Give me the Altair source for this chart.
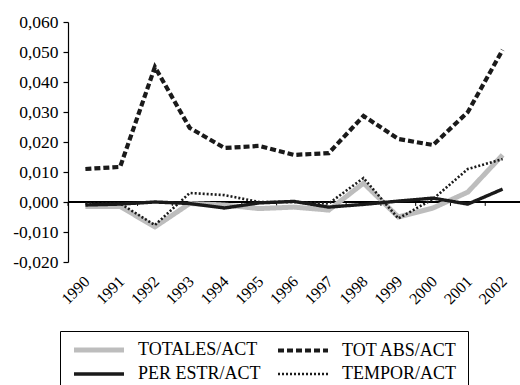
import altair as alt
import pandas as pd

years = ["1990", "1991", "1992", "1993", "1994", "1995", "1996",
         "1997", "1998", "1999", "2000", "2001", "2002"]
totales = [-0.0015, -0.0015, -0.0083, -0.0005, -0.0010, -0.0022, -0.0017,
           -0.0027, 0.0063, -0.0050, -0.0020, 0.0033, 0.0157]
tot_abs = [0.0110, 0.0117, 0.0450, 0.0247, 0.0180, 0.0187, 0.0157,
           0.0163, 0.0287, 0.0210, 0.0190, 0.0300, 0.0507]
per_estr = [-0.0010, -0.0007, 0.0000, -0.0005, -0.0020, -0.0003, 0.0002,
            -0.0017, -0.0008, 0.0003, 0.0013, -0.0007, 0.0043]
tempor = [-0.0005, -0.0005, -0.0077, 0.0030, 0.0023, 0.0000, 0.0000,
          -0.0005, 0.0080, -0.0055, 0.0010, 0.0110, 0.0143]

series_names = ["TOTALES/ACT", "TOT ABS/ACT", "PER ESTR/ACT", "TEMPOR/ACT"]
series_vals = [totales, tot_abs, per_estr, tempor]

rows = []
for name, vals in zip(series_names, series_vals):
    for y, v in zip(years, vals):
        rows.append({"year": y, "value": v, "series": name})
df = pd.DataFrame(rows)
years_df = pd.DataFrame({"year": years})

FONT = "Liberation Serif"

xscale = alt.Scale(type="band", paddingInner=0, paddingOuter=0)
yscale = alt.Scale(domain=[-0.02, 0.06], nice=False, zero=False)
yaxis = alt.Axis(
    values=[-0.02, -0.01, 0, 0.01, 0.02, 0.03, 0.04, 0.05, 0.06],
    labelExpr="(datum.value < -0.00001 ? '-' : '') + replace(format(abs(datum.value), '.3f'), '.', ',')",
    grid=False, title=None, tickSize=5, labelPadding=5,
    domainColor="black", tickColor="black", labelColor="black",
    labelFont=FONT, labelFontSize=17.5, domainWidth=1.2, tickWidth=1.2,
)
xaxis = alt.Axis(orient="bottom", labelAngle=-45, ticks=False, domain=False,
                 title=None, labelFont=FONT, labelFontSize=16,
                 labelColor="black", labelPadding=11, labelOffset=-4)

legend = alt.Legend(
    title=None, orient="none", legendX=-8, legendY=309, columns=2,
    symbolType="M-5,0H5", symbolSize=100, symbolOffset=20,
    labelFont=FONT, labelFontSize=18,
    labelColor="black", labelOffset=30, columnPadding=8, rowPadding=5,
    padding=10, strokeColor="black", direction="horizontal",
)

zero_line = alt.Chart(years_df).mark_rule(color="black", strokeWidth=1.2).encode(
    y=alt.datum(0, scale=yscale, axis=yaxis)
)
zero_ticks = alt.Chart(years_df).mark_rule(color="black", strokeWidth=1).encode(
    x=alt.X("year:O", scale=xscale, axis=xaxis, bandPosition=0),
    y=alt.datum(0, scale=yscale, axis=yaxis),
    y2=alt.datum(-0.0013),
)

lines = alt.Chart(df).mark_line().encode(
    x=alt.X("year:O", scale=xscale, axis=xaxis),
    y=alt.Y("value:Q", scale=yscale, axis=yaxis),
    color=alt.Color("series:N",
                    scale=alt.Scale(domain=series_names,
                                    range=["#bdbdbd", "#1a1a1a", "#1a1a1a", "#1a1a1a"]),
                    legend=legend),
    strokeDash=alt.StrokeDash("series:N",
                              scale=alt.Scale(domain=series_names,
                                              range=[[1, 0], [6, 3], [1, 0], [2, 2]]),
                              legend=legend),
    strokeWidth=alt.StrokeWidth("series:N",
                                scale=alt.Scale(domain=series_names,
                                                range=[5, 2.6, 2, 2]),
                                legend=legend),
)

chart = alt.layer(zero_line, zero_ticks, lines).properties(
    width=452, height=240,
    padding={"left": 68, "top": 22, "right": 0, "bottom": 123},
    autosize="none",
    background="white",
).configure_view(stroke=None)

chart.save("out.html", embed_options={"renderer": "svg", "actions": False})
